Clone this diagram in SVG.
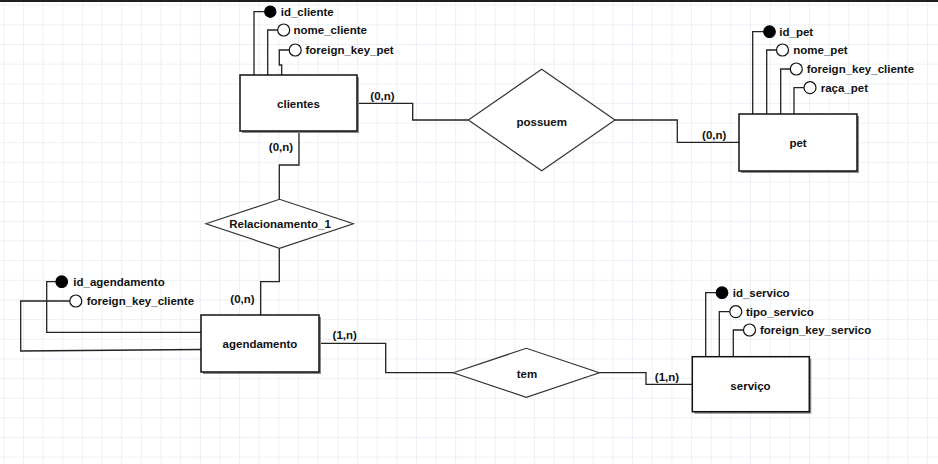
<svg xmlns="http://www.w3.org/2000/svg" width="938" height="464" viewBox="0 0 938 464">
<defs>
<pattern id="grid" patternUnits="userSpaceOnUse" x="3.3" y="4.7" width="19.65" height="19.65">
<path d="M0.5 0V19.65M0 0.5H19.65" fill="none" stroke="#ebf0f6" stroke-width="1"/>
</pattern>
</defs>
<style>
text{font-family:"Liberation Sans",Arial,sans-serif;font-weight:bold;font-size:11.5px;fill:#111}
.lbl{text-anchor:middle}
.ent rect.b{fill:#fff;stroke:#111;stroke-width:1.5}
.ent rect.s{fill:#8a8a8a}
.rel polygon{fill:#fff;stroke:#333;stroke-width:1.2}
.c{fill:none;stroke:#222;stroke-width:1.3}
.pk{fill:#000;stroke:#000;stroke-width:1.2}
.at{fill:#fff;stroke:#111;stroke-width:1.2}
</style>
<rect width="938" height="464" fill="#fff"/>
<rect width="938" height="464" fill="url(#grid)"/>
<rect width="938" height="2" fill="#1e1e1e"/>

<g id="connectors">
<!-- attribute lines -->
<polyline class="c" points="254,75 254,11.7 264.5,11.7"/>
<polyline class="c" points="267.7,75 267.7,30 277.5,30"/>
<polyline class="c" points="281.7,75 281.7,65 279.3,65 279.3,50 289,50"/>
<polyline class="c" points="752.7,114 752.7,31.7 763.5,31.7"/>
<polyline class="c" points="766.7,114 766.7,50 776.3,50"/>
<polyline class="c" points="780.7,114 780.7,69 790.3,69"/>
<polyline class="c" points="794,114 794,87.7 804,87.7"/>
<polyline class="c" points="705.7,357 705.7,292.7 716,292.7"/>
<polyline class="c" points="719.3,357 719.3,311.7 729.5,311.7"/>
<polyline class="c" points="733.3,357 733.3,330 743.5,330"/>
<polyline class="c" points="55.7,281.7 46.7,281.7 46.7,332.3 201,332.3"/>
<polyline class="c" points="70,301 20.7,301 20.7,351 201,349.5"/>
<!-- relationship lines -->
<polyline class="c" points="357,103.3 412.7,103.3 412.7,120 468.3,120"/>
<polyline class="c" points="615,120 677.3,120 677.3,142.3 739,142.3"/>
<polyline class="c" points="299,131 299,165 279.3,165 279.3,199.3"/>
<polyline class="c" points="279.3,248.3 279.3,281.7 260.7,281.7 260.7,315"/>
<polyline class="c" points="319,343.3 385.7,343.3 385.7,372.7 453.3,372.7"/>
<polyline class="c" points="599.3,372.7 646,372.7 646,384.3 692,384.3"/>
<text class="lbl" x="382.5" y="99.7">(0,n)</text>
<text class="lbl" x="714.2" y="139">(0,n)</text>
<text class="lbl" x="281" y="150.5">(0,n)</text>
<text class="lbl" x="242.5" y="302.5">(0,n)</text>
<text class="lbl" x="344.7" y="339">(1,n)</text>
<text class="lbl" x="667" y="380.5">(1,n)</text>
</g>

<g id="clientes" class="ent">
<rect class="s" x="242" y="77" width="117" height="56"/>
<rect class="b" x="240" y="75" width="117" height="56"/>
<text class="lbl" x="298.5" y="107.5">clientes</text>
</g>
<g id="pet" class="ent">
<rect class="s" x="741" y="116" width="118" height="57"/>
<rect class="b" x="739" y="114" width="118" height="57"/>
<text class="lbl" x="798" y="146.5">pet</text>
</g>
<g id="agendamento" class="ent">
<rect class="s" x="203" y="317" width="118" height="57"/>
<rect class="b" x="201" y="315" width="118" height="57"/>
<text class="lbl" x="260" y="347.5">agendamento</text>
</g>
<g id="servico" class="ent">
<rect class="s" x="694.3" y="358.7" width="117" height="55"/>
<rect class="b" x="692.3" y="356.7" width="117" height="55"/>
<text class="lbl" x="750.5" y="389.5">serviço</text>
</g>

<g id="possuem" class="rel">
<polygon points="468.3,120 541.7,69.3 615,120 541.7,170.7"/>
<text class="lbl" x="541.7" y="125.5">possuem</text>
</g>
<g id="relacionamento_1" class="rel">
<polygon points="206,223.8 279.5,199.3 353.3,223.8 279.5,248.3"/>
<text class="lbl" x="280" y="228">Relacionamento_1</text>
</g>
<g id="tem" class="rel">
<polygon points="453.3,372.7 526.3,348.3 599.3,372.7 526.3,397.3"/>
<text class="lbl" x="527" y="377.5">tem</text>
</g>

<g id="attr_id_cliente"><circle class="pk" cx="270.3" cy="11.7" r="5.6"/><text x="280.7" y="16">id_cliente</text></g>
<g id="attr_nome_cliente"><circle class="at" cx="283.7" cy="30" r="6"/><text x="293.5" y="34.2">nome_cliente</text></g>
<g id="attr_foreign_key_pet"><circle class="at" cx="295.2" cy="50" r="6"/><text x="305.5" y="54.2">foreign_key_pet</text></g>

<g id="attr_id_pet"><circle class="pk" cx="769.5" cy="31.7" r="5.8"/><text x="779.3" y="35.9">id_pet</text></g>
<g id="attr_nome_pet"><circle class="at" cx="782.5" cy="50" r="6"/><text x="793.3" y="54.2">nome_pet</text></g>
<g id="attr_foreign_key_cliente_pet"><circle class="at" cx="796.3" cy="69" r="6"/><text x="806.7" y="73.2">foreign_key_cliente</text></g>
<g id="attr_raca_pet"><circle class="at" cx="810" cy="87.7" r="6"/><text x="820.7" y="91.9">raça_pet</text></g>

<g id="attr_id_agendamento"><circle class="pk" cx="61.7" cy="281.7" r="5.8"/><text x="73.3" y="285.9">id_agendamento</text></g>
<g id="attr_foreign_key_cliente_ag"><circle class="at" cx="75.8" cy="301" r="6"/><text x="86.7" y="305.2">foreign_key_cliente</text></g>

<g id="attr_id_servico"><circle class="pk" cx="722" cy="292.7" r="5.8"/><text x="732.7" y="296.9">id_servico</text></g>
<g id="attr_tipo_servico"><circle class="at" cx="735.8" cy="311.7" r="6"/><text x="746" y="315.9">tipo_servico</text></g>
<g id="attr_foreign_key_servico"><circle class="at" cx="749.5" cy="330" r="6"/><text x="760" y="334.2">foreign_key_servico</text></g>
</svg>
